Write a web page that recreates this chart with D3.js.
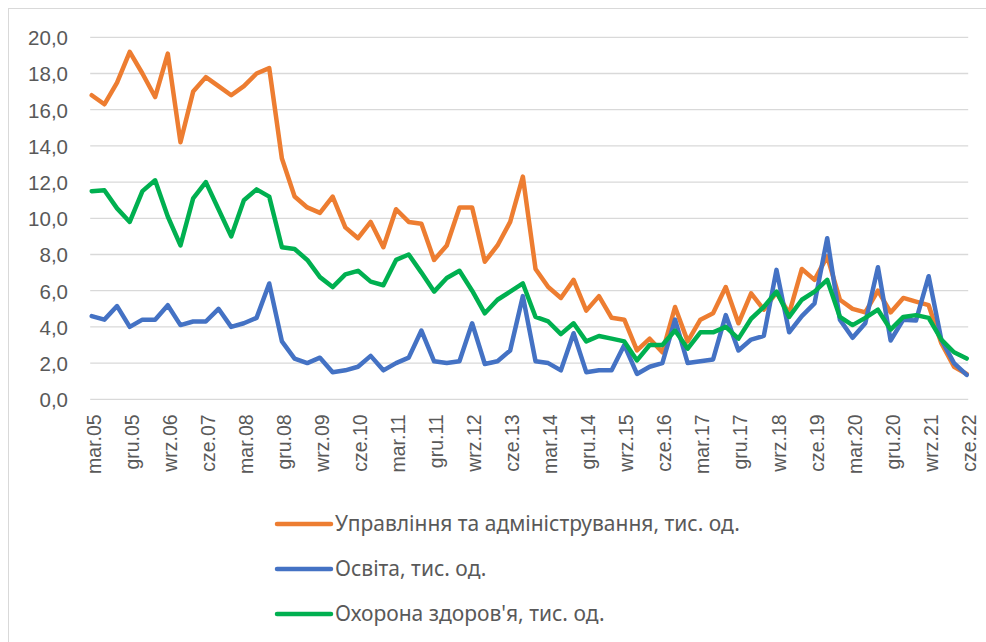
<!DOCTYPE html>
<html>
<head>
<meta charset="utf-8">
<script src="https://cdn.jsdelivr.net/npm/d3@7"></script>
<style>
  html, body { margin: 0; padding: 0; background: #ffffff; }
  svg { display: block; }
</style>
</head>
<body>
<svg id="chart" width="986" height="642"></svg>
<script>
// ---- Data ----
const monthNames = ["mar", "cze", "wrz", "gru"];
const years = ["05","06","07","08","09","10","11","12","13","14","15","16","17","18","19","20","21","22"];
const categories = [];
years.forEach(yr => monthNames.forEach(m => categories.push(m + "." + yr)));
categories.splice(70); // mar.05 .. cze.22

const tickLabels = ["mar.05","gru.05","wrz.06","cze.07","mar.08","gru.08","wrz.09","cze.10",
  "mar.11","gru.11","wrz.12","cze.13","mar.14","gru.14","wrz.15","cze.16",
  "mar.17","gru.17","wrz.18","cze.19","mar.20","gru.20","wrz.21","cze.22"];

const yTicks = [0, 2, 4, 6, 8, 10, 12, 14, 16, 18, 20];

const seriesNames = [
  "Управління та адміністрування, тис. од.",
  "Освіта, тис. од.",
  "Охорона здоров'я, тис. од."
];

const management = [16.8,16.3,17.5,19.2,18.0,16.7,19.1,14.2,17.0,17.8,
  17.3,16.8,17.3,18.0,18.3,13.3,11.2,10.6,10.3,11.2,
  9.5,8.9,9.8,8.4,10.5,9.8,9.7,7.7,8.5,10.6,
  10.6,7.6,8.5,9.8,12.3,7.2,6.2,5.6,6.6,4.9,
  5.7,4.5,4.4,2.7,3.35,2.6,5.1,3.2,4.4,4.75,
  6.2,4.2,5.85,4.95,5.9,4.75,7.2,6.6,7.9,5.5,
  5.0,4.8,6.0,4.8,5.6,5.4,5.2,3.1,1.8,1.4];

const education = [4.6,4.4,5.15,4.0,4.4,4.4,5.2,4.1,4.3,4.3,
  5.0,4.0,4.2,4.5,6.4,3.2,2.25,2.0,2.3,1.5,
  1.6,1.8,2.4,1.6,2.0,2.3,3.8,2.1,2.0,2.1,
  4.2,1.95,2.1,2.7,5.7,2.1,2.0,1.6,3.65,1.5,
  1.6,1.6,3.0,1.4,1.8,2.0,4.4,2.0,2.1,2.2,
  4.65,2.7,3.3,3.5,7.15,3.7,4.6,5.3,8.9,4.4,
  3.4,4.2,7.3,3.25,4.4,4.35,6.8,3.3,2.0,1.35];

const health = [11.5,11.55,10.55,9.8,11.5,12.1,10.1,8.5,11.1,12.0,
  10.5,9.0,11.0,11.6,11.2,8.4,8.3,7.7,6.75,6.2,
  6.9,7.1,6.5,6.3,7.7,8.0,7.0,5.95,6.7,7.1,
  6.0,4.75,5.5,5.95,6.4,4.55,4.3,3.6,4.2,3.2,
  3.5,3.35,3.2,2.15,3.0,3.0,3.8,2.8,3.7,3.7,
  4.0,3.35,4.45,5.1,5.95,4.55,5.5,5.95,6.6,4.55,
  4.1,4.5,4.95,3.85,4.55,4.65,4.5,3.3,2.6,2.25];

const seriesColors = ["#ED7D31", "#4472C4", "#00B050"];
const seriesData = [management, education, health];

// ---- Layout ----
(function draw() {
  const svg = d3.select("#chart");
  const W = 986, H = 642;
  const plotLeft = 91.7, plotRight = 966.7, plotTop = 37.3, plotBottom = 399.3;
  const textColor = "#595959";
  const font = "'Liberation Sans', Arial, sans-serif";
  const legendFont = "'Noto Sans', 'Open Sans', sans-serif";

  // outer frame
  svg.append("rect")
    .attr("x", 8.5).attr("y", 8.5)
    .attr("width", W + 20).attr("height", H + 20)
    .attr("fill", "#ffffff").attr("stroke", "#d9d9d9").attr("stroke-width", 1);

  const x = d3.scalePoint().domain(categories).range([plotLeft, plotRight]);
  const y = d3.scaleLinear().domain([0, 20]).range([plotBottom, plotTop]);

  // gridlines
  svg.append("g")
    .selectAll("line")
    .data(yTicks)
    .join("line")
    .attr("x1", plotLeft - 1.5).attr("x2", plotRight + 1.5)
    .attr("y1", d => y(d)).attr("y2", d => y(d))
    .attr("stroke", "#d9d9d9").attr("stroke-width", 1.3);

  // y axis labels
  const yAxis = d3.axisLeft(y).tickValues(yTicks).tickSize(0).tickPadding(0)
    .tickFormat(d => d3.format(".1f")(d).replace(".", ","));
  const yg = svg.append("g").attr("transform", "translate(68,0)").call(yAxis);
  yg.select(".domain").remove();
  yg.selectAll("text")
    .attr("fill", textColor)
    .style("font-family", font)
    .style("font-size", "20.5px")
    .attr("dy", "0.36em");

  // x axis labels (rotated)
  const xAxis = d3.axisBottom(x).tickValues(tickLabels).tickSize(0).tickPadding(0);
  const xg = svg.append("g").attr("transform", `translate(0,${plotBottom})`).call(xAxis);
  xg.select(".domain").remove();
  xg.selectAll("text")
    .attr("fill", textColor)
    .style("font-family", font)
    .style("font-size", "19.5px")
    .attr("text-anchor", "end")
    .attr("transform", "rotate(-90)")
    .attr("x", -15)
    .attr("y", 1.5)
    .attr("dy", "0.36em");

  // lines
  const line = d3.line()
    .x((d, i) => x(categories[i]))
    .y(d => y(d));

  svg.append("g")
    .selectAll("path")
    .data(seriesData)
    .join("path")
    .attr("d", d => line(d))
    .attr("fill", "none")
    .attr("stroke", (d, i) => seriesColors[i])
    .attr("stroke-width", 4.5)
    .attr("stroke-linejoin", "round")
    .attr("stroke-linecap", "round");

  // legend
  const legendY = [524, 569, 614];
  const lg = svg.append("g");
  seriesNames.forEach((name, i) => {
    lg.append("line")
      .attr("x1", 277).attr("x2", 331)
      .attr("y1", legendY[i]).attr("y2", legendY[i])
      .attr("stroke", seriesColors[i])
      .attr("stroke-width", 4.5)
      .attr("stroke-linecap", "round");
    lg.append("text")
      .attr("x", 335).attr("y", legendY[i])
      .attr("dy", "0.35em")
      .attr("fill", textColor)
      .style("font-family", legendFont)
      .style("font-size", "21px")
      .text(name);
  });
})();
</script>
</body>
</html>
